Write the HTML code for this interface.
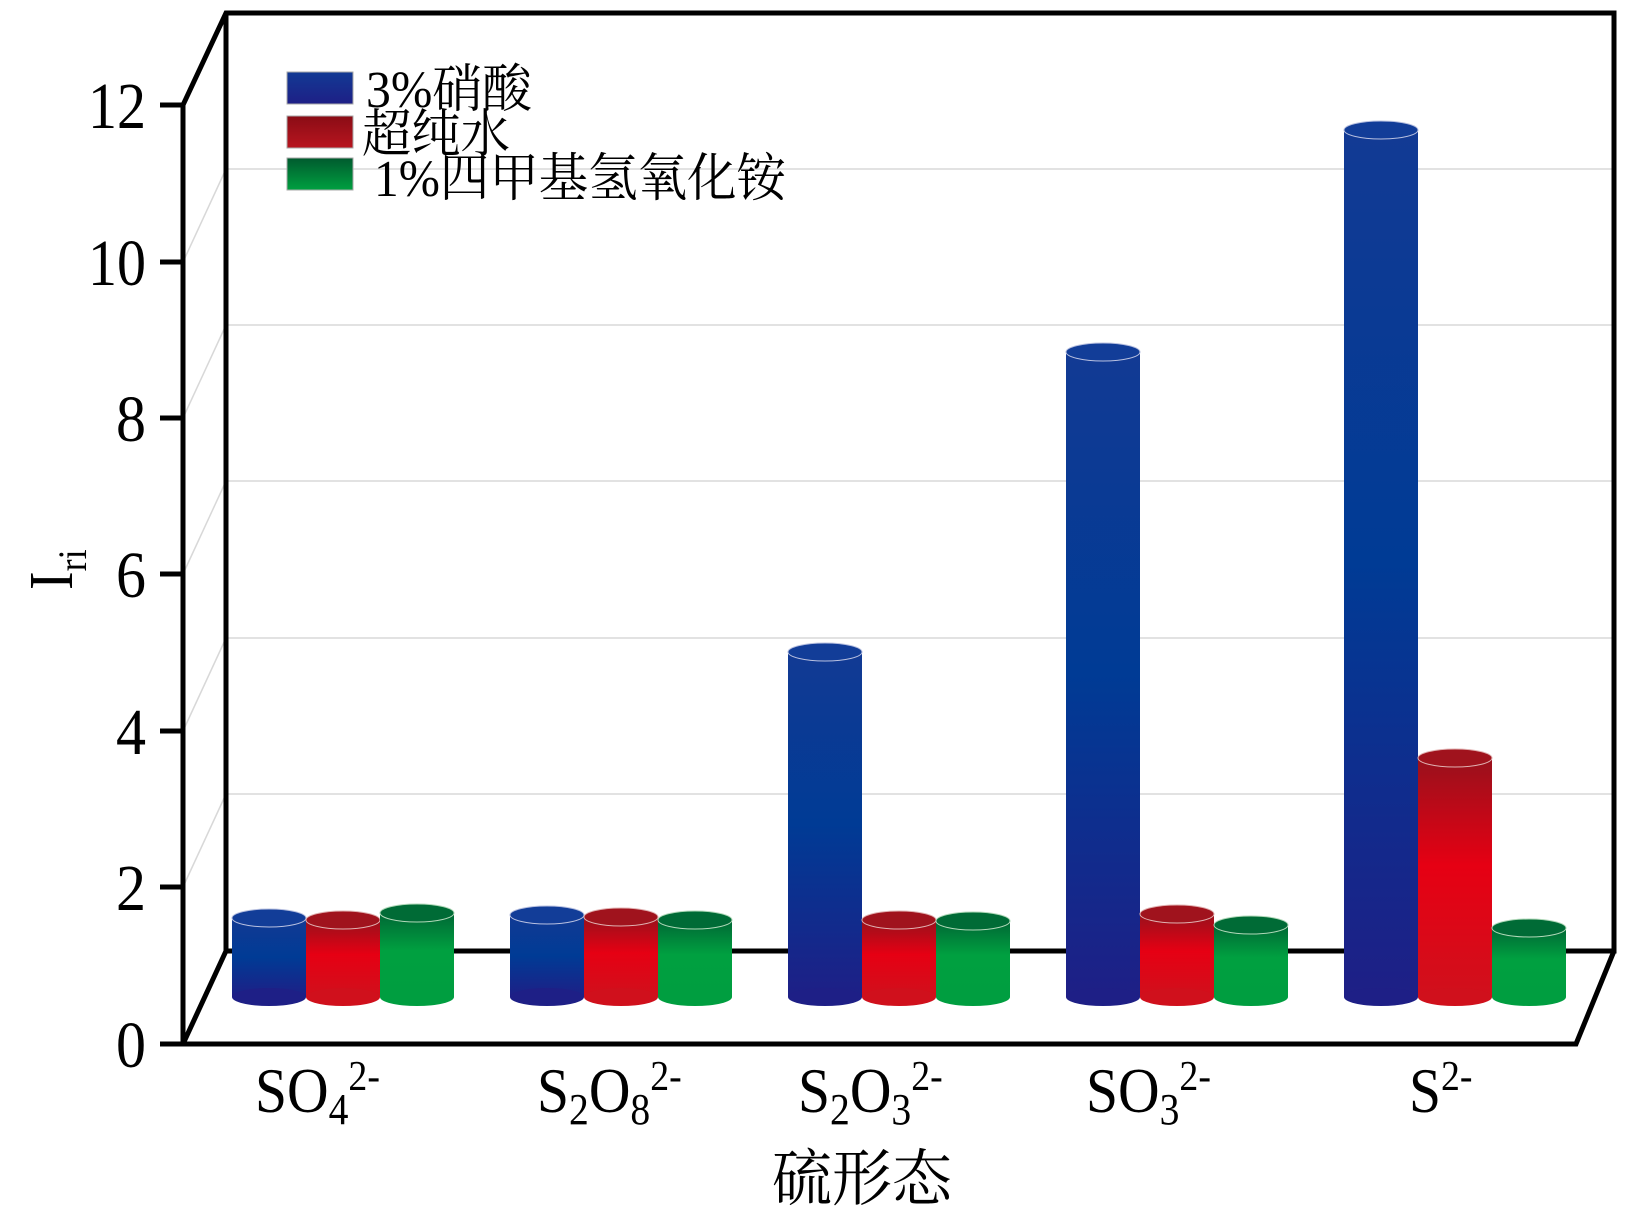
<!DOCTYPE html>
<html><head><meta charset="utf-8"><style>
html,body{margin:0;padding:0;background:#fff;}
svg{display:block;}
text{font-family:"Liberation Serif","Times New Roman","Noto Serif CJK SC",serif;fill:#000;}
</style></head><body>
<svg width="1631" height="1219" viewBox="0 0 1631 1219" xmlns="http://www.w3.org/2000/svg">
<defs>
<linearGradient id="gb" x1="0" y1="0" x2="0" y2="1"><stop offset="0" stop-color="#123a94"/><stop offset="0.5" stop-color="#003b95"/><stop offset="1" stop-color="#1e1f86"/></linearGradient>
<linearGradient id="gr" x1="0" y1="0" x2="0" y2="1"><stop offset="0" stop-color="#98111c"/><stop offset="0.45" stop-color="#e60013"/><stop offset="1" stop-color="#d0101c"/></linearGradient>
<linearGradient id="gg" x1="0" y1="0" x2="0" y2="1"><stop offset="0" stop-color="#006735"/><stop offset="0.45" stop-color="#00a040"/><stop offset="1" stop-color="#009e40"/></linearGradient>
<linearGradient id="grs" x1="0" y1="0" x2="0" y2="1"><stop offset="0" stop-color="#8a0c15"/><stop offset="1" stop-color="#b8151f"/></linearGradient>
<linearGradient id="ggs" x1="0" y1="0" x2="0" y2="1"><stop offset="0" stop-color="#005a2e"/><stop offset="1" stop-color="#00a040"/></linearGradient>
<linearGradient id="gbs" x1="0" y1="0" x2="0" y2="1"><stop offset="0" stop-color="#123a94"/><stop offset="1" stop-color="#1e1f86"/></linearGradient>
</defs>
<g stroke="#d8d8d8" stroke-width="1.5" fill="none">
<line x1="226" y1="794" x2="1614" y2="794"/><line x1="183" y1="887" x2="226" y2="794"/>
<line x1="226" y1="638" x2="1614" y2="638"/><line x1="183" y1="731" x2="226" y2="638"/>
<line x1="226" y1="481" x2="1614" y2="481"/><line x1="183" y1="574" x2="226" y2="481"/>
<line x1="226" y1="325" x2="1614" y2="325"/><line x1="183" y1="418" x2="226" y2="325"/>
<line x1="226" y1="169" x2="1614" y2="169"/><line x1="183" y1="262" x2="226" y2="169"/>
</g>
<g stroke="#000" stroke-width="5" fill="none">
<polyline points="183,1044 183,105 226,13 1614,13 1614,951 226,951 226,13"/>
<polyline points="183,1044 226,951"/>
</g>
<g>
<rect x="232" y="918" width="74" height="79" fill="url(#gb)"/><ellipse cx="269" cy="997" rx="37" ry="9" fill="#1e1f86"/><ellipse cx="269" cy="918" rx="37" ry="9" fill="#123d98" stroke="#b8c0e0" stroke-width="1"/>
<rect x="306" y="920" width="74" height="77" fill="url(#gr)"/><ellipse cx="343" cy="997" rx="37" ry="9" fill="#d0101c"/><ellipse cx="343" cy="920" rx="37" ry="9" fill="#a0131d" stroke="#e0b0b0" stroke-width="1"/>
<rect x="380" y="913" width="74" height="84" fill="url(#gg)"/><ellipse cx="417" cy="997" rx="37" ry="9" fill="#009e40"/><ellipse cx="417" cy="913" rx="37" ry="9" fill="#006b36" stroke="#b0d8b8" stroke-width="1"/>
<rect x="510" y="915" width="74" height="82" fill="url(#gb)"/><ellipse cx="547" cy="997" rx="37" ry="9" fill="#1e1f86"/><ellipse cx="547" cy="915" rx="37" ry="9" fill="#123d98" stroke="#b8c0e0" stroke-width="1"/>
<rect x="584" y="917" width="74" height="80" fill="url(#gr)"/><ellipse cx="621" cy="997" rx="37" ry="9" fill="#d0101c"/><ellipse cx="621" cy="917" rx="37" ry="9" fill="#a0131d" stroke="#e0b0b0" stroke-width="1"/>
<rect x="658" y="920" width="74" height="77" fill="url(#gg)"/><ellipse cx="695" cy="997" rx="37" ry="9" fill="#009e40"/><ellipse cx="695" cy="920" rx="37" ry="9" fill="#006b36" stroke="#b0d8b8" stroke-width="1"/>
<rect x="788" y="652" width="74" height="345" fill="url(#gb)"/><ellipse cx="825" cy="997" rx="37" ry="9" fill="#1e1f86"/><ellipse cx="825" cy="652" rx="37" ry="9" fill="#123d98" stroke="#b8c0e0" stroke-width="1"/>
<rect x="862" y="920" width="74" height="77" fill="url(#gr)"/><ellipse cx="899" cy="997" rx="37" ry="9" fill="#d0101c"/><ellipse cx="899" cy="920" rx="37" ry="9" fill="#a0131d" stroke="#e0b0b0" stroke-width="1"/>
<rect x="936" y="921" width="74" height="76" fill="url(#gg)"/><ellipse cx="973" cy="997" rx="37" ry="9" fill="#009e40"/><ellipse cx="973" cy="921" rx="37" ry="9" fill="#006b36" stroke="#b0d8b8" stroke-width="1"/>
<rect x="1066" y="352" width="74" height="645" fill="url(#gb)"/><ellipse cx="1103" cy="997" rx="37" ry="9" fill="#1e1f86"/><ellipse cx="1103" cy="352" rx="37" ry="9" fill="#123d98" stroke="#b8c0e0" stroke-width="1"/>
<rect x="1140" y="914" width="74" height="83" fill="url(#gr)"/><ellipse cx="1177" cy="997" rx="37" ry="9" fill="#d0101c"/><ellipse cx="1177" cy="914" rx="37" ry="9" fill="#a0131d" stroke="#e0b0b0" stroke-width="1"/>
<rect x="1214" y="925" width="74" height="72" fill="url(#gg)"/><ellipse cx="1251" cy="997" rx="37" ry="9" fill="#009e40"/><ellipse cx="1251" cy="925" rx="37" ry="9" fill="#006b36" stroke="#b0d8b8" stroke-width="1"/>
<rect x="1344" y="130" width="74" height="867" fill="url(#gb)"/><ellipse cx="1381" cy="997" rx="37" ry="9" fill="#1e1f86"/><ellipse cx="1381" cy="130" rx="37" ry="9" fill="#123d98" stroke="#b8c0e0" stroke-width="1"/>
<rect x="1418" y="758" width="74" height="239" fill="url(#gr)"/><ellipse cx="1455" cy="997" rx="37" ry="9" fill="#d0101c"/><ellipse cx="1455" cy="758" rx="37" ry="9" fill="#a0131d" stroke="#e0b0b0" stroke-width="1"/>
<rect x="1492" y="928" width="74" height="69" fill="url(#gg)"/><ellipse cx="1529" cy="997" rx="37" ry="9" fill="#009e40"/><ellipse cx="1529" cy="928" rx="37" ry="9" fill="#006b36" stroke="#b0d8b8" stroke-width="1"/>
</g>
<g stroke="#000" stroke-width="5" fill="none">
<polyline points="183,1044 1576,1044 1614,951"/>
<line x1="160" y1="1044" x2="183" y2="1044"/><line x1="160" y1="887" x2="183" y2="887"/><line x1="160" y1="731" x2="183" y2="731"/><line x1="160" y1="574" x2="183" y2="574"/><line x1="160" y1="418" x2="183" y2="418"/><line x1="160" y1="262" x2="183" y2="262"/><line x1="160" y1="105" x2="183" y2="105"/>
</g>
<g font-size="66" text-anchor="end">
<text x="146" y="1067" textLength="30" lengthAdjust="spacingAndGlyphs">0</text>
<text x="146" y="910" textLength="30" lengthAdjust="spacingAndGlyphs">2</text>
<text x="146" y="754" textLength="30" lengthAdjust="spacingAndGlyphs">4</text>
<text x="146" y="597" textLength="30" lengthAdjust="spacingAndGlyphs">6</text>
<text x="146" y="441" textLength="30" lengthAdjust="spacingAndGlyphs">8</text>
<text x="146" y="285" textLength="58" lengthAdjust="spacingAndGlyphs">10</text>
<text x="146" y="128" textLength="58" lengthAdjust="spacingAndGlyphs">12</text>
</g>
<text transform="translate(72,590) rotate(-90) scale(0.9,1)" font-size="62">I<tspan font-size="40" dy="14">ri</tspan></text>
<g font-size="64">
<text transform="translate(255,1112) scale(0.9,1)">SO<tspan font-size="44" dy="12">4</tspan><tspan font-size="42" dy="-34">2-</tspan></text>
<text transform="translate(537,1112) scale(0.9,1)">S<tspan font-size="44" dy="12">2</tspan><tspan dy="-12">O</tspan><tspan font-size="44" dy="12">8</tspan><tspan font-size="42" dy="-34">2-</tspan></text>
<text transform="translate(798,1112) scale(0.9,1)">S<tspan font-size="44" dy="12">2</tspan><tspan dy="-12">O</tspan><tspan font-size="44" dy="12">3</tspan><tspan font-size="42" dy="-34">2-</tspan></text>
<text transform="translate(1086,1112) scale(0.9,1)">SO<tspan font-size="44" dy="12">3</tspan><tspan font-size="42" dy="-34">2-</tspan></text>
<text transform="translate(1409,1112) scale(0.9,1)">S<tspan font-size="42" dy="-22">2-</tspan></text>
</g>
<text x="772" y="1200" font-size="62" textLength="180" lengthAdjust="spacingAndGlyphs">硫形态</text>
<rect x="287" y="72" width="66" height="32" fill="url(#gbs)" stroke="#aaa" stroke-width="1"/>
<rect x="287" y="116" width="66" height="32" fill="url(#grs)" stroke="#aaa" stroke-width="1"/>
<rect x="287" y="158" width="66" height="32" fill="url(#ggs)" stroke="#aaa" stroke-width="1"/>
<g font-size="52">
<text x="366" y="107" textLength="166" lengthAdjust="spacingAndGlyphs">3%硝酸</text>
<text x="362" y="152" textLength="148" lengthAdjust="spacingAndGlyphs">超纯水</text>
<text x="374" y="196" textLength="412" lengthAdjust="spacingAndGlyphs">1%四甲基氢氧化铵</text>
</g>
</svg>
</body></html>
